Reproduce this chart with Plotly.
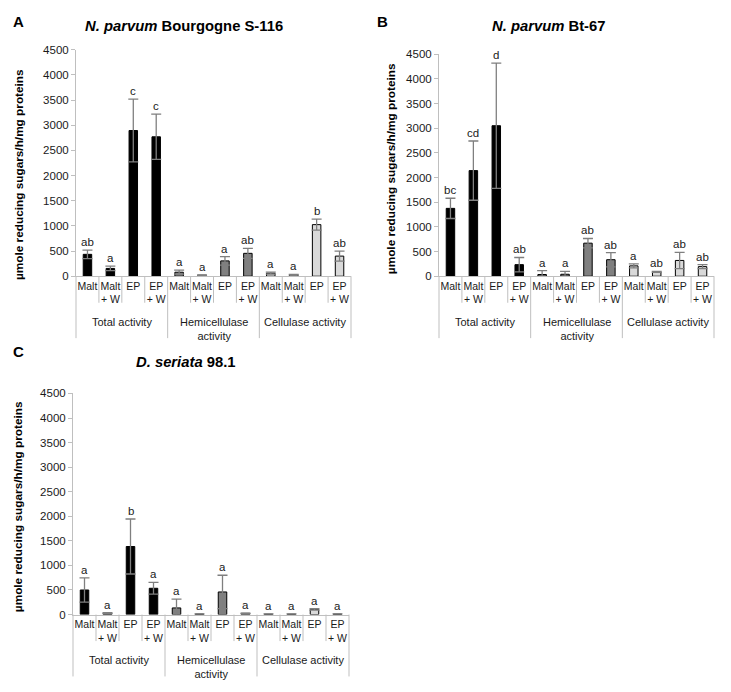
import plotly.graph_objects as go

# ---------------- data ----------------
groups = ["Total activity", "Hemicellulase<br>activity", "Cellulase activity"]
subs = ["Malt", "Malt<br>+ W", "EP", "EP<br>+ W"]
group_colors = ["#000000", "#808080", "#d9d9d9"]

A_title = "<b><i>N. parvum</i> Bourgogne S-116</b>"
A_means = [435, 155, 2895, 2770, 80, 20, 305, 455, 60, 30, 1025, 400]
A_err = [85, 45, 625, 450, 40, 8, 85, 100, 20, 8, 110, 100]
A_letters = ["ab", "a", "c", "c", "a", "a", "a", "ab", "a", "a", "b", "ab"]

B_title = "<b><i>N. parvum</i> Bt-67</b>"
B_means = [1375, 2140, 3050, 235, 35, 40, 670, 335, 210, 90, 320, 195]
B_err = [205, 600, 1270, 145, 80, 60, 95, 145, 40, 10, 165, 40]
B_letters = ["bc", "cd", "d", "ab", "a", "a", "ab", "ab", "a", "ab", "ab", "ab"]

C_title = "<b><i>D. seriata</i> 98.1</b>"
C_means = [500, 30, 1385, 535, 135, 10, 460, 25, 8, 8, 105, 10]
C_err = [245, 10, 560, 120, 180, 5, 340, 5, 3, 3, 15, 3]
C_letters = ["a", "a", "b", "a", "a", "a", "a", "a", "a", "a", "a", "a"]

y_title = "<b>µmole reducing sugars/h/mg proteins</b>"
y_ticks = [0, 500, 1000, 1500, 2000, 2500, 3000, 3500, 4000, 4500]

# ---------------- layout geometry (pixels) ----------------
W, H = 731, 692
FONT = "Liberation Sans, Arial, sans-serif"
GRAY = "#bfbfbf"
TXT = "#1a1a1a"


def fx(px):
    return px / W


def fy(py):
    return 1 - py / H


panels = [
    dict(letter="A", title=A_title, means=A_means, err=A_err, lets=A_letters,
         x0=76, x1=351, yb=275, yt=44.5, lpos=(18, 16), tpos=(184, 20), ytx=19, yty=172),
    dict(letter="B", title=B_title, means=B_means, err=B_err, lets=B_letters,
         x0=439, x1=714, yb=275, yt=49, lpos=(383, 16), tpos=(548, 20), ytx=391, yty=165),
    dict(letter="C", title=C_title, means=C_means, err=C_err, lets=C_letters,
         x0=73, x1=349, yb=619.3, yt=394.3, lpos=(18, 352), tpos=(186, 362), ytx=18, yty=510),
]

cats = [(g, s) for g in groups for s in subs]
n = len(cats)
idx = list(range(n))
ticktext = [s for g, s in cats]
bar_colors = [group_colors[groups.index(g)] for g, s in cats]

fig = go.Figure()
annotations = []
shapes = []

for k, p in enumerate(panels):
    sfx = "" if k == 0 else str(k + 1)
    xa, ya = "x" + sfx, "y" + sfx
    fig.add_trace(go.Bar(
        x=idx, y=p["means"], width=0.37,
        marker=dict(color=bar_colors, line=dict(color="#000000", width=1)),
        error_y=dict(type="data", array=p["err"], color="#7f7f7f", thickness=1.3, width=5),
        xaxis=xa, yaxis=ya, showlegend=False, hoverinfo="skip",
    ))
    fig.update_layout(**{
        ("xaxis" + sfx): dict(
            domain=[fx(p["x0"]), fx(p["x1"])], anchor=ya,
            range=[-0.5, n - 0.5], tickvals=idx, ticktext=ticktext,
            ticks="", showline=True, linecolor=GRAY, linewidth=1,
            showgrid=False, zeroline=False,
            tickfont=dict(family=FONT, size=10.5, color=TXT),
        ),
        ("yaxis" + sfx): dict(
            domain=[fy(p["yb"]), fy(p["yt"])], anchor=xa,
            range=[0, 4500], tickvals=y_ticks,
            ticks="outside", ticklen=4, tickcolor=GRAY,
            showline=True, linecolor=GRAY, linewidth=1,
            showgrid=False, zeroline=False,
            tickfont=dict(family=FONT, size=11.5, color=TXT),
        ),
    })
    for i in idx:
        annotations.append(dict(
            x=i, y=p["means"][i] + p["err"][i], xref=xa, yref=ya,
            text=p["lets"][i], showarrow=False, yanchor="bottom", yshift=0,
            font=dict(family=FONT, size=11.5, color=TXT),
        ))
    for gi, g in enumerate(groups):
        annotations.append(dict(
            x=gi * len(subs) + (len(subs) - 1) / 2, y=fy(p["yb"] + 38),
            xref=xa, yref="paper", text=g, showarrow=False,
            yanchor="top", font=dict(family=FONT, size=11, color=TXT),
        ))
    for d in range(n + 1):
        major = d % len(subs) == 0
        shapes.append(dict(
            type="line", xref=xa + " domain", yref="paper",
            x0=d / n, x1=d / n, y0=fy(p["yb"]), y1=fy(p["yb"] + (63 if major else 27)),
            line=dict(color=GRAY, width=1),
        ))
    annotations.append(dict(
        x=fx(p["lpos"][0]), y=fy(p["lpos"][1]), xref="paper", yref="paper",
        text="<b>" + p["letter"] + "</b>", showarrow=False,
        xanchor="center", yanchor="middle",
        font=dict(family=FONT, size=15, color="#000000"),
    ))
    annotations.append(dict(
        x=fx(p["tpos"][0]), y=fy(p["tpos"][1]), xref="paper", yref="paper",
        text=p["title"], showarrow=False, xanchor="center", yanchor="middle",
        font=dict(family=FONT, size=14.8, color="#000000"),
    ))
    annotations.append(dict(
        x=fx(p["ytx"]), y=fy(p["yty"]), xref="paper", yref="paper",
        text=y_title, showarrow=False, textangle=-90,
        xanchor="center", yanchor="middle",
        font=dict(family=FONT, size=11.8, color="#000000"),
    ))

fig.update_layout(
    width=W, height=H,
    margin=dict(l=0, r=0, t=0, b=0),
    paper_bgcolor="white", plot_bgcolor="white",
    annotations=annotations, shapes=shapes,
)

fig.write_html(
    "out.html",
    config={"displayModeBar": False},
    post_script="document.body.style.margin='0px';",
)
